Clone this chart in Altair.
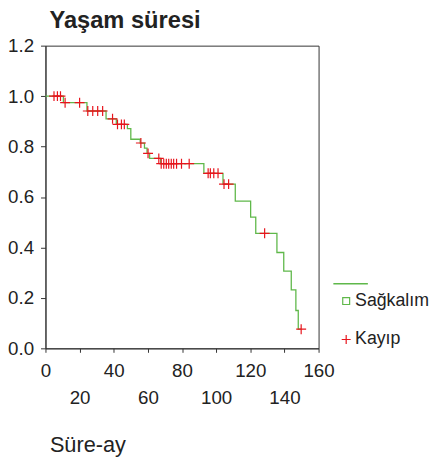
import altair as alt
import pandas as pd

# Kaplan-Meier steps (event times and survival after each step)
step_t = [0, 10.5, 24.3, 35.5, 41.5, 48, 50, 55.5, 58, 59.5, 61, 67.5, 92.8, 104,
          111.2, 120.2, 123.2, 135.6, 139.6, 144, 146.7, 148.1]
step_s = [1.0, 0.974, 0.941, 0.910, 0.888, 0.871, 0.829, 0.814, 0.794, 0.773, 0.753,
          0.732, 0.694, 0.651, 0.584, 0.520, 0.456, 0.380, 0.306, 0.232, 0.150, 0.076]
end_t = 149.8

# censored observations (Kayıp)
cens_t = [5, 7, 8.8, 11.5, 20, 24.8, 27.7, 30.6, 33.5, 39.3, 42.2, 44.5, 46.2, 55.9,
          60.1, 66.4, 67.8, 69.3, 70.8, 72.2, 73.7, 75.1, 76.8, 79.7, 84.2,
          95.3, 96.6, 98.6, 101.1, 104.6, 107.3, 128.4, 149.8]
cens_s = [1.0, 1.0, 1.0, 0.974, 0.974, 0.941, 0.941, 0.941, 0.941, 0.910, 0.888, 0.888,
          0.888, 0.814, 0.773, 0.753, 0.732, 0.732, 0.732, 0.732, 0.732, 0.732, 0.732,
          0.732, 0.732, 0.694, 0.694, 0.694, 0.694, 0.651, 0.651, 0.456, 0.076]

x_ticks_all = [0, 20, 40, 60, 80, 100, 120, 140, 160]
x_ticks_low = [20, 60, 100, 140]
y_ticks = [0, 0.2, 0.4, 0.6, 0.8, 1.0, 1.2]
legend_names = ["Sağkalım", "Kayıp"]

GREEN = "#5fb84a"
RED = "#e8141c"
FONT = "Liberation Sans"
TXT = "#222222"
CROSS = "M-1.3,0H1.3M0,-1.3V1.3"

line_df = pd.DataFrame({"t": step_t + [end_t], "s": step_s + [step_s[-1]], "lg": "curve"})
cens_df = pd.DataFrame({"t": cens_t, "s": cens_s, "type": "Kayıp"})

xs = alt.Scale(domain=[0, 160], nice=False, zero=False)
ys = alt.Scale(domain=[0, 1.2], nice=False)

yaxis = alt.Axis(values=y_ticks, format=".1f", tickSize=5, labelPadding=7,
                 labelFontSize=19, labelFont=FONT, labelColor=TXT, grid=False,
                 title=None, domainColor="#333", tickColor="#333")

axis1 = alt.Axis(values=x_ticks_all, labelExpr="datum.value % 40 == 0 ? datum.label : ''",
                 tickSize=4, labelPadding=10, labelFontSize=19, labelFont=FONT,
                 labelColor=TXT, grid=False, title=None, domainColor="#333",
                 tickColor="#333", labelFlush=False, labelOverlap=False, orient="bottom")
axis2 = alt.Axis(values=x_ticks_low, ticks=False, domain=False, tickSize=0, labelPadding=41,
                 labelFontSize=19, labelFont=FONT, labelColor=TXT, grid=False,
                 title="Süre-ay", titleFontSize=22, titleFontWeight="normal", titleFont=FONT,
                 titleColor=TXT, titleX=4, titleY=105, titleAlign="left",
                 titleBaseline="alphabetic", labelFlush=False, labelOverlap=False,
                 orient="bottom")

line_legend = alt.Legend(orient="none", legendX=291, legendY=223, title=None,
                         symbolType="stroke", symbolSize=1225, symbolStrokeWidth=1.5,
                         labelExpr="''", labelFontSize=18)
pt_legend = alt.Legend(orient="none", legendX=296, legendY=250, title=None,
                       labelFontSize=18, labelFont=FONT, labelColor=TXT, symbolSize=49,
                       symbolStrokeWidth=1.2, rowPadding=21, labelOffset=0)

line = alt.Chart(line_df).mark_line(interpolate="step-after", strokeWidth=1.3).encode(
    x=alt.X("t:Q", scale=xs, axis=axis1),
    y=alt.Y("s:Q", scale=ys, axis=yaxis),
    stroke=alt.Stroke("lg:N", scale=alt.Scale(domain=["curve"], range=[GREEN]),
                      legend=line_legend),
)

axis_layer = alt.Chart(line_df).mark_line(opacity=0).encode(
    x=alt.X("t:Q", scale=xs, axis=axis2),
    y=alt.Y("s:Q", scale=ys, axis=yaxis),
)

points = alt.Chart(cens_df).mark_point(size=60, strokeWidth=1.2, filled=False, opacity=1).encode(
    x=alt.X("t:Q", scale=xs, axis=None),
    y=alt.Y("s:Q", scale=ys, axis=yaxis),
    color=alt.Color("type:N", scale=alt.Scale(domain=legend_names, range=[GREEN, RED]),
                    legend=pt_legend),
    shape=alt.Shape("type:N", scale=alt.Scale(domain=legend_names, range=["square", CROSS]),
                    legend=pt_legend),
)

chart = alt.layer(line, axis_layer, points).resolve_axis(x="independent").properties(
    width=277, height=307,
    title=alt.TitleParams("Yaşam süresi", anchor="start", frame="group", fontSize=24,
                          fontWeight="bold", font=FONT, color=TXT, offset=5, dx=4, dy=25,
                          baseline="bottom"),
    autosize=alt.AutoSizeParams(type="none"),
    padding={"left": 38, "top": 35, "right": 112, "bottom": 107},
).configure_view(stroke="#333", strokeWidth=1)

chart.save("out.html", embed_options={"renderer": "svg", "actions": False})
